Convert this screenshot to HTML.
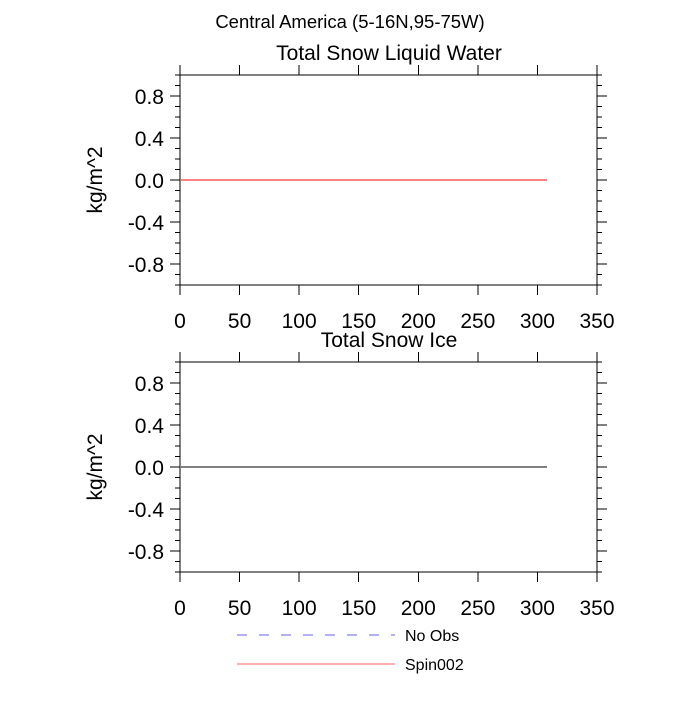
<!DOCTYPE html>
<html><head><meta charset="utf-8"><style>
body{margin:0;background:#fff}
svg text{font-family:"Liberation Sans",Helvetica,sans-serif;fill:#000}
</style></head><body>
<svg id="c" width="700" height="700" xmlns="http://www.w3.org/2000/svg">
<text x="350" y="28" font-size="18.5" text-anchor="middle">Central America (5-16N,95-75W)</text>
</svg>
<script>
const xTicks=[0,50,100,150,200,250,300,350];
const yTicks=[-0.8,-0.4,0.0,0.4,0.8];
const yTickLabels=["-0.8","-0.4","0.0","0.4","0.8"];
const panelTitles=["Total Snow Liquid Water","Total Snow Ice"];
const seriesX=[1,308];
const snowLiquid=[0,0];
const snowIce=[0,0];
const legendNames=["No Obs","Spin002"];
const svg=document.getElementById('c');
const NS='http://www.w3.org/2000/svg';
function mk(t,a,p){const e=document.createElementNS(NS,t);for(const k in a)e.setAttribute(k,a[k]);(p||svg).appendChild(e);return e;}
const X0=180,X1=597;
const sx=v=>X0+(v-0)/(350-0)*(X1-X0);
const panels=[{top:75,bot:285,data:snowLiquid,color:'#ff0000'},{top:362,bot:572,data:snowIce,color:'#000'}];
panels.forEach((p,i)=>{
  const sy=v=>p.bot-(v+1)/2*(p.bot-p.top);
  const g=mk('g',{'shape-rendering':'crispEdges'});
  
  
  const t=mk('text',{x:389,y:p.top-15,'font-size':21,'text-anchor':'middle'},g);t.textContent=panelTitles[i];
  
  
  const r=mk('rect',{x:X0,y:p.top,width:X1-X0,height:p.bot-p.top,fill:'none',stroke:'#000','stroke-width':1},g);
  
  
  xTicks.forEach(v=>{
    mk('line',{x1:sx(v),x2:sx(v),y1:p.bot,y2:p.bot+10,stroke:'#000'},g);
    mk('line',{x1:sx(v),x2:sx(v),y1:p.top,y2:p.top-10,stroke:'#000'},g);
    const l=mk('text',{x:sx(v),y:p.bot+43,'font-size':21,'text-anchor':'middle'},g);l.textContent=v;
    
    
  });
  for(let k=-10;k<=10;k++){const v=k/10;const maj=(k%4===0&&Math.abs(k)<10);const len=maj?10:5;
    mk('line',{x1:X0,x2:X0-len,y1:sy(v),y2:sy(v),stroke:'#000'},g);
    mk('line',{x1:X1,x2:X1+len,y1:sy(v),y2:sy(v),stroke:'#000'},g);}
  yTicks.forEach((v,j)=>{const l=mk('text',{x:164,y:sy(v)+8,'font-size':21,'text-anchor':'end'},g);l.textContent=yTickLabels[j];
    
    });
  const yt=mk('text',{x:0,y:0,'font-size':21,'text-anchor':'middle',transform:`translate(102,${(p.top+p.bot)/2}) rotate(-90)`},g);yt.textContent='kg/m^2';
  
  
  const pts=seriesX.map((x,j)=>sx(x)+','+sy(p.data[j])).join(' ');
  const pl=mk('polyline',{points:pts,fill:'none',stroke:p.color,'stroke-width':1},g);
  
  
});
[[635,'#6666ee','10,12'],[664,'#ff6060','']].forEach((d,i)=>{
  const ln=mk('line',{x1:237,x2:395,y1:d[0],y2:d[0],stroke:d[1],'stroke-dasharray':d[2],'shape-rendering':'crispEdges'});
  
  
  const t=mk('text',{x:405,y:d[0]+6,'font-size':16});t.textContent=legendNames[i];
  
  
});
</script>
</body></html>
